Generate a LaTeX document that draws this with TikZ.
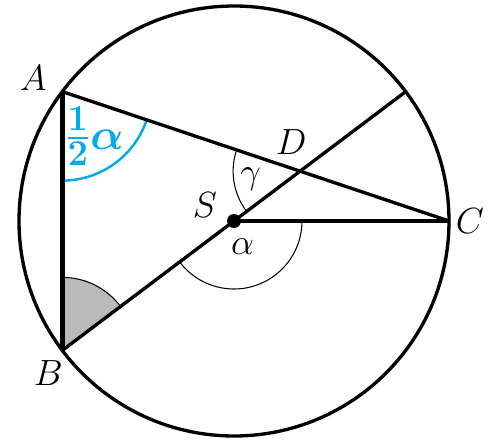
\documentclass[tikz,border=0pt]{standalone}
\usepackage{amsmath,amssymb}
\usetikzlibrary{angles,quotes,calc}
\definecolor{angblue}{RGB}{0,170,235}
\tikzset{
  lbl/.style = {font=\huge, inner sep=0pt},% point names
  ln/.style = {line width=1.9pt},% chords and circle
  thk/.style = {line width=2.6pt},% AB and SC
  arcthin/.style = {draw, line width=0.6pt}% angle marks
}

\begin{document}
\begin{tikzpicture}
\useasboundingbox (-4.68,-4.44) rectangle (5.22,4.42);
\coordinate (S) at (0,0);
\coordinate (A) at (143:4.3);
\coordinate (B) at (217:4.3);
\coordinate (C) at (0:4.3);
\coordinate (E) at (37:4.3);
\coordinate (D) at (intersection of A--C and B--E);
% angle marks
\pic [arcthin, fill=black!27, angle radius=1.46cm] {angle = S--B--A};
\pic [arcthin, angle radius=1.34cm, "$\gamma$", font=\huge, angle eccentricity=0.75] {angle = A--D--B};
\pic [arcthin, angle radius=1.36cm, "$\alpha$", font=\huge, angle eccentricity=0.4] {angle = B--S--C};
\pic [draw=angblue, line width=1.4pt, angle radius=1.78cm, "$\boldsymbol{\frac{1}{2}\alpha}$", text=angblue, font=\Huge, angle eccentricity=0.62] {angle = B--A--C};
% figure
\draw[ln] (S) circle (4.3);
\draw[thk] (A) -- (B);
\draw[thk] (S) -- (C);
\draw[ln] (A) -- (C);
\draw[ln] (B) -- (E);
\fill (S) circle (0.14);
% names
\node[lbl] (nA) at ($(A)+(-0.58,0.28)$) {$A$};
\node[lbl] (nB) at ($(B)+(-0.28,-0.46)$) {$B$};
\node[lbl] (nC) at ($(C)+(0.42,0)$) {$C$};
\node[lbl] (nD) at ($(D)+(-0.18,0.58)$) {$D$};
\node[lbl] (nS) at ($(S)+(-0.58,0.32)$) {$S$};
\end{tikzpicture}
\end{document}
